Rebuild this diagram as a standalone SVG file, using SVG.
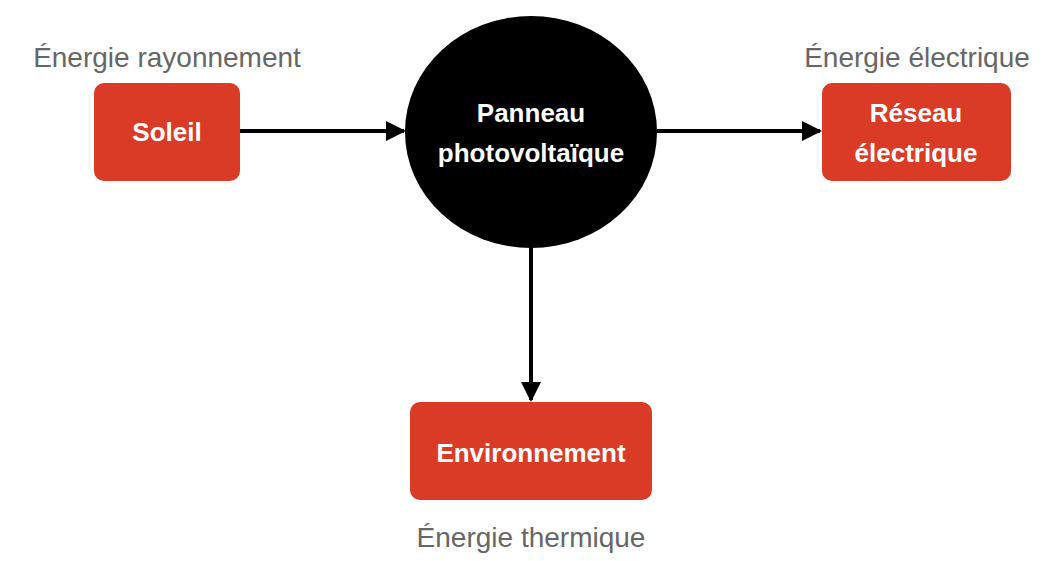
<svg xmlns="http://www.w3.org/2000/svg" width="1057" height="561" viewBox="0 0 1057 561">
<style>
.box{fill:#DA3B26;}
.t{font-family:"Helvetica Neue","Liberation Sans",Arial,sans-serif;font-weight:bold;font-size:26px;fill:#fff;text-anchor:middle;}
.l{font-family:"Helvetica Neue","Liberation Sans",Arial,sans-serif;font-size:28px;fill:#666;text-anchor:middle;}
.c{stroke:#000;stroke-width:4;fill:none;marker-end:url(#a);}
</style>
<defs><marker id="a" viewBox="0 0 10 10" refX="9" refY="5" markerWidth="5" markerHeight="5" orient="auto" markerUnits="strokeWidth"><path d="M0,0L10,5L0,10z" fill="#000"/></marker></defs>
<rect width="1057" height="561" fill="#fff"/>
<g id="connectors">
<line class="c" x1="240" y1="131" x2="404" y2="131"/>
<line class="c" x1="657" y1="131" x2="820" y2="131"/>
<line class="c" x1="531" y1="248" x2="531" y2="400"/>
</g>
<g id="soleil"><rect class="box" x="94" y="83" width="146" height="98" rx="10"/><text class="t" x="167" y="141">Soleil</text></g>
<g id="panneau"><ellipse cx="531" cy="132" rx="126" ry="116" fill="#000"/><text class="t" x="531" y="122">Panneau</text><text class="t" x="531" y="162">photovoltaïque</text></g>
<g id="reseau"><rect class="box" x="822" y="83" width="189" height="98" rx="10"/><text class="t" x="916" y="122">Réseau</text><text class="t" x="916" y="162">électrique</text></g>
<g id="env"><rect class="box" x="410" y="402" width="242" height="98" rx="10"/><text class="t" x="531" y="462">Environnement</text></g>
<text class="l" x="167" y="67">Énergie rayonnement</text>
<text class="l" x="917" y="67">Énergie électrique</text>
<text class="l" x="531" y="547">Énergie thermique</text>
</svg>
